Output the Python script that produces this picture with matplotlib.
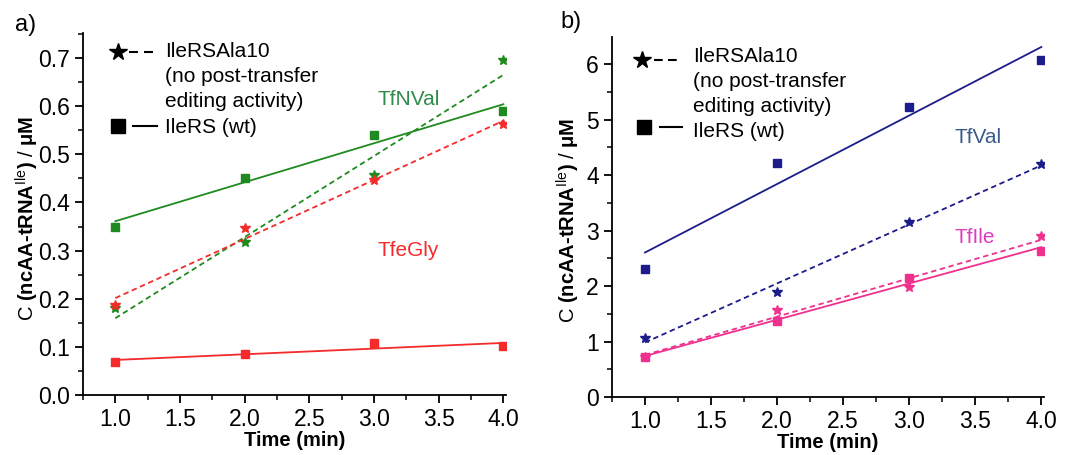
import numpy as np
import matplotlib
matplotlib.use('Agg')
import matplotlib.pyplot as plt
from matplotlib.ticker import MultipleLocator, FormatStrFormatter

plt.rcParams['font.family'] = ['Liberation Sans', 'DejaVu Sans']
plt.rcParams['mathtext.fontset'] = 'custom'
plt.rcParams['mathtext.rm'] = 'Liberation Sans'
plt.rcParams['mathtext.it'] = 'Liberation Sans:italic'
plt.rcParams['mathtext.bf'] = 'Liberation Sans:bold'

time = [1, 2, 3, 4]

# panel a
tfnval_wt = [0.35, 0.45, 0.54, 0.59]
tfnval_ala10 = [0.18, 0.317, 0.457, 0.695]
tfegly_wt = [0.069, 0.085, 0.107, 0.101]
tfegly_ala10 = [0.186, 0.347, 0.447, 0.562]

# panel b
tfval_wt = [2.30, 4.22, 5.23, 6.08]
tfval_ala10 = [1.07, 1.90, 3.15, 4.20]
tfile_wt = [0.72, 1.37, 2.15, 2.64]
tfile_ala10 = [0.73, 1.57, 1.98, 2.90]

legend_lines = ['IleRSAla10', '(no post-transfer', 'editing activity)']

green = '#1f8a1f'
red = '#f52a2a'
navy = '#1c1c8a'
pink = '#f0308e'


def fit(ax, x, y, color, ls):
    k, b = np.polyfit(x, y, 1)
    xs = np.array([x[0], x[-1]])
    ax.plot(xs, k * xs + b, color=color, lw=1.3, ls=ls)


def series(ax, y_wt, y_ala, color):
    fit(ax, time, y_wt, color, '-')
    fit(ax, time, y_ala, color, (0, (3, 2)))
    ax.plot(time, y_wt, 's', color=color, ms=5.5, ls='none')
    ax.plot(time, y_ala, '*', color=color, ms=7.5, ls='none')


def style(ax, lab_x, lab_y):
    for s in ['top', 'right']:
        ax.spines[s].set_visible(False)
    for s in ['left', 'bottom']:
        ax.spines[s].set_linewidth(1.3)
    ax.set_xlim(0.75, 4.02)
    ax.xaxis.set_major_locator(MultipleLocator(0.5))
    ax.xaxis.set_minor_locator(MultipleLocator(0.25))
    ax.xaxis.set_major_formatter(FormatStrFormatter('%.1f'))
    ax.tick_params(which='major', length=6, width=1.3, labelsize=16.5, direction='out')
    ax.tick_params(which='minor', length=3.5, width=1.1, direction='out')
    ax.set_xlabel('Time (min)', fontsize=14.5, fontweight='bold',
                  family=['Liberation Sans Narrow', 'Liberation Sans'])
    ax.xaxis.set_label_coords(0.5, -0.1)
    ax.set_ylabel(r'$\mathrm{C}$ (ncAA-tRNA$^{\mathrm{Ile}}$) $\mathrm{/}$ μM',
                  fontsize=14.5, fontweight='bold')
    ax.yaxis.set_label_coords(lab_x, lab_y)


def legend(ax, star, dash, dashes, square, solid, xt, baselines):
    tr = ax.transAxes
    ax.plot([star[0]], [star[1]], '*', color='k', ms=13, transform=tr, clip_on=False)
    ax.plot(dash, [star[1], star[1]], color='k', lw=1.5,
            ls=(0, dashes), transform=tr, clip_on=False)
    ax.plot([square[0]], [square[1]], 's', color='k', ms=9.5, transform=tr, clip_on=False)
    ax.plot(solid, [square[1], square[1]], color='k', lw=1.5,
            transform=tr, clip_on=False)
    for line, yb in zip(legend_lines, baselines[:3]):
        ax.text(xt, yb, line, transform=tr, fontsize=15, va='baseline', ha='left')
    ax.text(xt, baselines[3], 'IleRS (wt)', transform=tr, fontsize=15,
            va='baseline', ha='left')


fig = plt.figure(figsize=(10.7, 4.55), dpi=100)
axa = fig.add_axes([83 / 1070, 1 - 395 / 455, 423 / 1070, 362 / 455])
axb = fig.add_axes([612 / 1070, 1 - 397 / 455, 432 / 1070, 360 / 455])

series(axa, tfnval_wt, tfnval_ala10, green)
series(axa, tfegly_wt, tfegly_ala10, red)
style(axa, -0.1, 0.489)
axa.set_ylim(0, 0.752)
axa.yaxis.set_major_locator(MultipleLocator(0.1))
axa.yaxis.set_minor_locator(MultipleLocator(0.05))
axa.yaxis.set_major_formatter(FormatStrFormatter('%.1f'))
axa.text(3.03, 0.613, 'TfNVal', color='#2e8b4a', fontsize=15, va='center')
axa.text(3.03, 0.301, 'TfeGly', color=red, fontsize=15, va='center')
legend(axa, (0.082, 0.947), (0.109, 0.165), (4.3, 2.9), (0.083, 0.743),
       (0.118, 0.175), 0.194, [0.934, 0.865, 0.796, 0.724])

series(axb, tfval_wt, tfval_ala10, navy)
series(axb, tfile_wt, tfile_ala10, pink)
style(axb, -0.07, 0.49)
axb.set_ylim(0, 6.49)
axb.yaxis.set_major_locator(MultipleLocator(1))
axb.yaxis.set_minor_locator(MultipleLocator(0.5))
axb.yaxis.set_major_formatter(FormatStrFormatter('%d'))
axb.text(3.34, 4.67, 'TfVal', color='#3a5a8c', fontsize=15, va='center')
axb.text(3.34, 2.88, 'TfIle', color='#e03cc0', fontsize=15, va='center')
legend(axb, (0.069, 0.935), (0.097, 0.153), (4.2, 2.5), (0.074, 0.751),
       (0.111, 0.162), 0.1875, [0.931, 0.861, 0.792, 0.722])

fig.text(15 / 1070, 1 - 25 / 455, 'a)', fontsize=17, va='center')
fig.text(560 / 1070, 1 - 22 / 455, 'b)', fontsize=17, va='center')

fig.savefig('out.png', dpi=100)
